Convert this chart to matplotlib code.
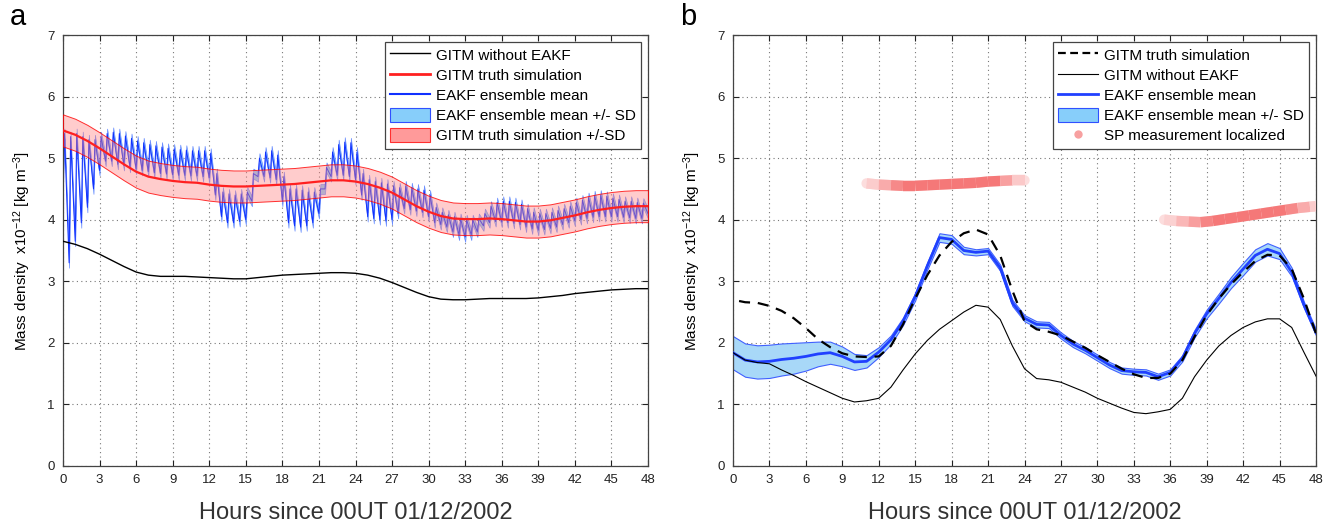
import numpy as np
import matplotlib
matplotlib.use("Agg")
import matplotlib.pyplot as plt
from matplotlib.lines import Line2D
from matplotlib.patches import Patch
from matplotlib.collections import LineCollection

plt.rcParams['font.family'] = ['Liberation Sans', 'DejaVu Sans']
plt.rcParams['mathtext.default'] = 'regular'

# ---- panel a data (hourly) ----
hours = np.arange(0, 49)
truth_a = [5.45, 5.38, 5.28, 5.16, 5.03, 4.90, 4.78, 4.70, 4.66, 4.63,
           4.61, 4.60, 4.57, 4.55, 4.54, 4.54, 4.55, 4.56, 4.57, 4.58,
           4.60, 4.62, 4.64, 4.64, 4.62, 4.58, 4.52, 4.44, 4.33, 4.22,
           4.13, 4.06, 4.02, 4.01, 4.01, 4.02, 4.01, 3.99, 3.97, 3.97,
           3.99, 4.03, 4.07, 4.12, 4.16, 4.19, 4.21, 4.22, 4.22]
truth_sd_a = 0.26
without_a = [3.65, 3.60, 3.53, 3.44, 3.34, 3.24, 3.15, 3.10, 3.08, 3.08,
             3.08, 3.07, 3.06, 3.05, 3.04, 3.04, 3.06, 3.08, 3.10, 3.11,
             3.12, 3.13, 3.14, 3.14, 3.13, 3.10, 3.05, 2.98, 2.90, 2.82,
             2.75, 2.71, 2.70, 2.70, 2.71, 2.72, 2.72, 2.72, 2.72, 2.73,
             2.75, 2.77, 2.80, 2.82, 2.84, 2.86, 2.87, 2.88, 2.88]

# EAKF ensemble mean in panel a: low / high of each half-hour assimilation cycle
cycle_start = np.arange(0, 48, 0.5)
eakf_lo_a = [4.60, 3.30, 3.65, 3.95, 4.20, 4.50, 4.80, 4.95, 4.95, 4.90,
             4.88, 4.85, 4.82, 4.80, 4.78, 4.76, 4.75, 4.74, 4.73, 4.72,
             4.72, 4.71, 4.71, 4.70, 4.68, 4.40, 4.05, 3.95, 3.95, 3.97,
             4.00, 4.30, 4.70, 4.70, 4.68, 4.65, 4.30, 3.95, 3.90, 3.88,
             3.90, 3.95, 4.10, 4.50, 4.70, 4.72, 4.72, 4.70, 4.65, 4.40,
             4.05, 4.02, 4.00, 3.98, 4.00, 4.10, 4.18, 4.16, 4.14, 4.12,
             4.05, 3.95, 3.92, 3.88, 3.80, 3.75, 3.72, 3.75, 3.80, 3.90,
             3.95, 3.97, 3.96, 3.95, 3.94, 3.92, 3.88, 3.85, 3.83, 3.84,
             3.86, 3.88, 3.92, 3.95, 3.98, 4.00, 4.02, 4.04, 4.05, 4.05,
             4.05, 4.05, 4.04, 4.03, 4.02, 4.02]
eakf_hi_a = [5.40, 5.35, 5.40, 5.35, 5.30, 5.30, 5.35, 5.40, 5.42, 5.40,
             5.36, 5.32, 5.28, 5.25, 5.22, 5.20, 5.18, 5.16, 5.15, 5.14,
             5.13, 5.12, 5.12, 5.12, 5.08, 4.75, 4.45, 4.42, 4.40, 4.42,
             4.45, 4.75, 5.00, 5.10, 5.12, 5.05, 4.70, 4.50, 4.50, 4.48,
             4.45, 4.45, 4.50, 4.85, 5.10, 5.22, 5.26, 5.25, 5.10, 4.75,
             4.65, 4.62, 4.60, 4.58, 4.55, 4.52, 4.55, 4.52, 4.50, 4.48,
             4.40, 4.20, 4.12, 4.08, 4.05, 4.02, 4.00, 4.00, 4.02, 4.10,
             4.22, 4.28, 4.30, 4.30, 4.28, 4.25, 4.18, 4.12, 4.10, 4.10,
             4.12, 4.15, 4.18, 4.22, 4.28, 4.32, 4.36, 4.39, 4.40, 4.38,
             4.35, 4.33, 4.30, 4.30, 4.28, 4.27]
eakf_end_a = 4.10
eakf_sd_a = 0.08

# ---- panel b data (hourly) ----
truth_b_hours = np.r_[0.5, np.arange(1, 49)]
truth_b = [2.68, 2.66, 2.65, 2.60, 2.52, 2.40, 2.24, 2.06, 1.93, 1.83,
           1.78, 1.77, 1.78, 1.95, 2.30, 2.72, 3.10, 3.42, 3.64, 3.78,
           3.84, 3.76, 3.42, 2.85, 2.35, 2.22, 2.18, 2.12, 2.02, 1.92,
           1.80, 1.69, 1.58, 1.49, 1.43, 1.43, 1.50, 1.72, 2.10, 2.45,
           2.72, 2.95, 3.15, 3.33, 3.43, 3.42, 3.20, 2.72, 2.15]
without_b = [1.84, 1.72, 1.68, 1.66, 1.56, 1.47, 1.37, 1.28, 1.19, 1.10,
             1.04, 1.06, 1.10, 1.28, 1.56, 1.82, 2.04, 2.22, 2.36, 2.50,
             2.61, 2.58, 2.38, 1.95, 1.58, 1.42, 1.40, 1.36, 1.28, 1.20,
             1.10, 1.02, 0.94, 0.87, 0.85, 0.88, 0.92, 1.10, 1.45, 1.72,
             1.95, 2.12, 2.25, 2.34, 2.39, 2.39, 2.25, 1.85, 1.46]
eakf_b = [1.84, 1.72, 1.69, 1.70, 1.73, 1.75, 1.78, 1.82, 1.84, 1.78,
          1.69, 1.70, 1.85, 2.05, 2.35, 2.75, 3.25, 3.71, 3.68, 3.50,
          3.47, 3.49, 3.22, 2.65, 2.40, 2.30, 2.29, 2.12, 1.98, 1.88,
          1.76, 1.64, 1.55, 1.53, 1.52, 1.45, 1.52, 1.75, 2.15, 2.47,
          2.72, 2.98, 3.20, 3.42, 3.52, 3.45, 3.15, 2.62, 2.17]
eakf_sd_b = [0.27, 0.27, 0.27, 0.27, 0.26, 0.25, 0.23, 0.20, 0.18, 0.16,
             0.13, 0.10, 0.08, 0.07, 0.06, 0.06, 0.06, 0.07, 0.07, 0.06,
             0.05, 0.05, 0.05, 0.05, 0.05, 0.05, 0.05, 0.05, 0.05, 0.05,
             0.05, 0.05, 0.05, 0.05, 0.05, 0.05, 0.05, 0.05, 0.06, 0.07,
             0.08, 0.09, 0.10, 0.10, 0.10, 0.09, 0.07, 0.05, 0.05]

# localized satellite (SP) measurement tracks
sp1_hours = [11.0, 12.0, 13.0, 14.0, 15.0, 16.0, 17.0, 18.0, 19.0, 20.0, 21.0, 22.0, 23.0, 24.0]
sp1_vals = [4.59, 4.57, 4.56, 4.55, 4.55, 4.56, 4.57, 4.58, 4.59, 4.60, 4.62, 4.63, 4.64, 4.64]
sp2_hours = [35.5, 36.5, 37.5, 38.5, 39.5, 40.5, 41.5, 42.5, 43.5, 44.5, 45.5, 46.5, 47.5, 48.0]
sp2_vals = [4.00, 3.98, 3.97, 3.96, 3.98, 4.01, 4.04, 4.07, 4.10, 4.13, 4.16, 4.19, 4.21, 4.22]

W, H = 1341, 527
fig = plt.figure(figsize=(W / 100, H / 100), dpi=100)
ax_a = fig.add_axes([63 / W, 61 / H, 585 / W, 431 / H])
ax_b = fig.add_axes([733 / W, 61 / H, 583 / W, 431 / H])


def style_axes(ax):
    ax.set_xlim(0, 48)
    ax.set_ylim(0, 7)
    ax.set_xticks(np.arange(0, 49, 3))
    ax.set_yticks(np.arange(0, 8, 1))
    ax.grid(True, color='#777777', linestyle=(0, (1, 3)), linewidth=0.8)
    ax.tick_params(direction='in', top=True, right=True, length=4,
                   labelsize=9.5, colors='#222222', pad=6)
    for s in ax.spines.values():
        s.set_color('#444444')
        s.set_linewidth(0.9)
    ax.set_xlabel('Hours since 00UT 01/12/2002', fontsize=17, color='#333333', labelpad=11)
    ax.set_ylabel(r'Mass density  x10$^{-12}$ [kg m$^{-3}$]', fontsize=11)
    ax.yaxis.set_label_coords(-0.052, 0.5)


def sp_track(ax, xs, ys, fade_left, fade_right):
    # faint underlay with round ends, then opaque segments fading towards white at both ends
    base = np.array([0.96, 0.47, 0.47])
    faint = tuple(1 - 0.25 * (1 - base))
    ax.plot(xs, ys, color=faint, linewidth=7.5, solid_capstyle='round', zorder=3)
    pts = np.column_stack([xs, ys])
    segs = np.stack([pts[:-1], pts[1:]], axis=1)
    n = len(segs)
    colors = []
    for i in range(n):
        f = min(1.0, 0.25 + 0.75 * (i + 0.5) / fade_left,
                0.25 + 0.75 * (n - i - 0.5) / fade_right)
        colors.append(tuple(1 - f * (1 - base)))
    lc = LineCollection(segs, colors=colors, linewidths=7.5, capstyle='butt', zorder=3)
    ax.add_collection(lc)


# ---- panel a ----
t_saw = np.ravel(np.column_stack([cycle_start, cycle_start + 0.12]))
y_saw = np.ravel(np.column_stack([eakf_lo_a, eakf_hi_a]))
t_saw = np.r_[t_saw, 48]
y_saw = np.r_[y_saw, eakf_end_a]

ax_a.fill_between(t_saw, y_saw - eakf_sd_a, y_saw + eakf_sd_a, facecolor='#87cefa',
                  edgecolor='#6a8cff', linewidth=0.5, zorder=2)
ax_a.plot(t_saw, y_saw, color='#1030ff', linewidth=0.7, zorder=2)
t_a = np.array(truth_a)
ax_a.fill_between(hours, t_a - truth_sd_a, t_a + truth_sd_a, facecolor=(1, 0.5, 0.5, 0.4),
                  edgecolor=(1, 0, 0, 0.8), linewidth=0.7, zorder=3)
ax_a.plot(hours, truth_a, color='#ff2020', linewidth=1.6, zorder=4)
ax_a.plot(hours, without_a, color='black', linewidth=1.0, zorder=4)
style_axes(ax_a)

leg_kw = dict(loc='upper right', fontsize=11, handlelength=2.6, handleheight=1.1,
              labelspacing=0.3, borderaxespad=0.45, borderpad=0.35, fancybox=False,
              framealpha=1, edgecolor='#444444', handletextpad=0.4)

handles_a = [
    Line2D([], [], color='black', linewidth=1.0),
    Line2D([], [], color='#ff2020', linewidth=2),
    Line2D([], [], color='#1030ff', linewidth=1.5),
    Patch(facecolor='#87cefa', edgecolor='#3050ff', linewidth=0.8),
    Patch(facecolor='#ff9a9a', edgecolor='#ff3030', linewidth=0.8),
]
labels_a = ['GITM without EAKF', 'GITM truth simulation', 'EAKF ensemble mean',
            'EAKF ensemble mean +/- SD', 'GITM truth simulation +/-SD']
leg = ax_a.legend(handles_a, labels_a, **leg_kw)
leg.get_frame().set_linewidth(0.9)

# ---- panel b ----
sp_track(ax_b, sp1_hours, sp1_vals, 3.0, 2.5)
sp_track(ax_b, sp2_hours, sp2_vals, 4.0, 3.0)
e_b = np.array(eakf_b)
s_b = np.array(eakf_sd_b)
ax_b.fill_between(hours, e_b - s_b, e_b + s_b, facecolor='#a8d8f8',
                  edgecolor='#4060ff', linewidth=0.8, zorder=2)
ax_b.plot(hours, eakf_b, color='#2040ff', linewidth=2, zorder=3)
ax_b.plot(truth_b_hours, truth_b, color='black', linewidth=1.6, dashes=(5, 3.5), zorder=4)
ax_b.plot(hours, without_b, color='black', linewidth=0.8, zorder=4)
style_axes(ax_b)

handles_b = [
    Line2D([], [], color='black', linewidth=1.6, dashes=(3.5, 2)),
    Line2D([], [], color='black', linewidth=0.8),
    Line2D([], [], color='#2040ff', linewidth=2),
    Patch(facecolor='#87cefa', edgecolor='#3050ff', linewidth=0.8),
    Line2D([], [], color='none', marker='o', markersize=6, markerfacecolor='#f7a0a0',
           markeredgecolor='none'),
]
labels_b = ['GITM truth simulation', 'GITM without EAKF', 'EAKF ensemble mean',
            'EAKF ensemble mean +/- SD', 'SP measurement localized']
leg = ax_b.legend(handles_b, labels_b, **leg_kw)
leg.get_frame().set_linewidth(0.9)

fig.text(10 / W, 1 - 17 / H, 'a', fontsize=21, va='center', ha='left')
fig.text(680 / W, 1 - 17 / H, 'b', fontsize=21, va='center', ha='left')

fig.savefig('out.png', dpi=100)
